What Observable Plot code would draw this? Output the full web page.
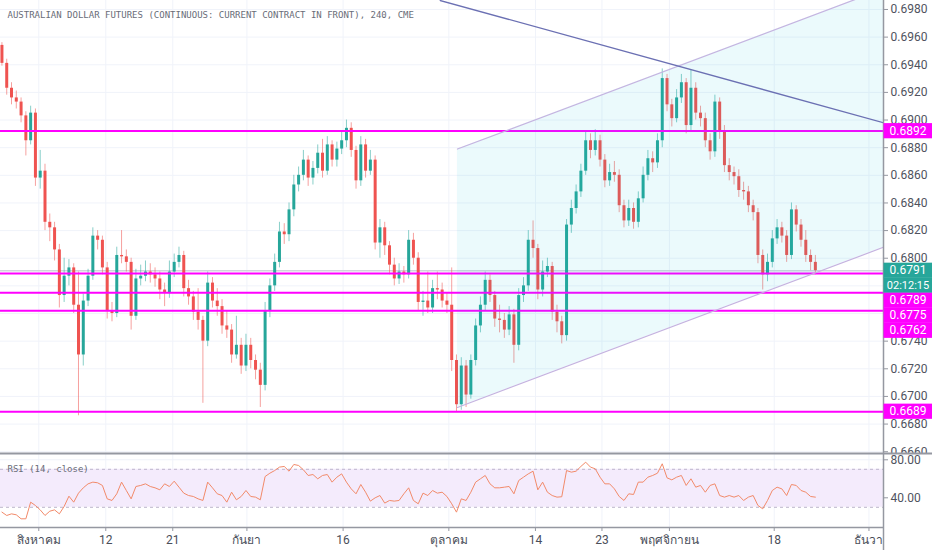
<!DOCTYPE html>
<html><head><meta charset="utf-8">
<script src="https://cdn.jsdelivr.net/npm/d3@7"></script>
<script src="https://cdn.jsdelivr.net/npm/@observablehq/plot@0.6"></script>
<style>
html,body{margin:0;padding:0;background:#fff;}
#chart svg{display:block;}
</style></head><body><div id="chart"></div>
<script>
// ---------------- data ----------------
const title = "AUSTRALIAN DOLLAR FUTURES (CONTINUOUS: CURRENT CONTRACT IN FRONT), 240, CME";
const rsiTitle = "RSI (14, close)";
const open0 = 0.6954;
const closes = [
0.6941,0.6923,0.6916,0.6913,0.6903,0.6885,0.6905,0.6858,0.6863,0.6826,
0.6822,0.6806,0.6773,0.6787,0.6793,0.6766,0.6730,0.6769,0.6787,0.6816,
0.6813,0.6793,0.6762,0.6760,0.6802,0.6801,0.6797,0.6758,0.6785,0.6787,
0.6790,0.6788,0.6785,0.6777,0.6775,0.6790,0.6797,0.6802,0.6778,0.6772,
0.6761,0.6755,0.6740,0.6782,0.6769,0.6765,0.6751,0.6748,0.6730,0.6737,
0.6722,0.6737,0.6726,0.6719,0.6708,0.6762,0.6780,0.6797,0.6819,0.6817,
0.6835,0.6853,0.6860,0.6871,0.6858,0.6865,0.6876,0.6863,0.6882,0.6871,
0.6879,0.6885,0.6894,0.6878,0.6856,0.6882,0.6863,0.6871,0.6811,0.6822,
0.6809,0.6795,0.6785,0.6790,0.6788,0.6813,0.6800,0.6768,0.6769,0.6764,
0.6778,0.6777,0.6769,0.6766,0.6726,0.6694,0.6722,0.6701,0.6726,0.6751,
0.6766,0.6784,0.6773,0.6756,0.6755,0.6748,0.6759,0.6737,0.6773,0.6780,
0.6813,0.6807,0.6777,0.6790,0.6794,0.6761,0.6754,0.6744,0.6824,0.6836,
0.6848,0.6863,0.6885,0.6878,0.6885,0.6871,0.6856,0.6862,0.6860,0.6838,
0.6827,0.6836,0.6826,0.6843,0.6860,0.6872,0.6869,0.6885,0.6930,0.6911,
0.6901,0.6916,0.6927,0.6896,0.6923,0.6905,0.6901,0.6885,0.6877,0.6913,
0.6892,0.6867,0.6862,0.6859,0.6849,0.6848,0.6838,0.6833,0.6802,0.6788,
0.6797,0.6814,0.6822,0.6816,0.6802,0.6835,0.6824,0.6813,0.6802,0.6797,
0.6791];
const highs = [
0.6956,0.6944,0.6927,0.6921,0.6916,0.6906,0.6910,0.6908,0.6878,0.6868,
0.6832,0.6826,0.6810,0.6800,0.6799,0.6796,0.6790,0.6774,0.6792,0.6822,
0.6820,0.6816,0.6797,0.6768,0.6808,0.6820,0.6806,0.6800,0.6792,0.6795,
0.6798,0.6796,0.6793,0.6790,0.6782,0.6798,0.6803,0.6808,0.6805,0.6784,
0.6776,0.6778,0.6758,0.6790,0.6786,0.6778,0.6770,0.6762,0.6752,0.6758,
0.6742,0.6745,0.6742,0.6730,0.6724,0.6768,0.6785,0.6803,0.6826,0.6825,
0.6840,0.6860,0.6866,0.6878,0.6874,0.6870,0.6882,0.6886,0.6888,0.6885,
0.6884,0.6892,0.6900,0.6898,0.6881,0.6888,0.6886,0.6878,0.6874,0.6828,
0.6826,0.6812,0.6800,0.6796,0.6794,0.6820,0.6818,0.6804,0.6776,0.6790,
0.6784,0.6790,0.6782,0.6775,0.6793,0.6730,0.6728,0.6726,0.6730,0.6756,
0.6772,0.6790,0.6788,0.6776,0.6766,0.6760,0.6765,0.6763,0.6778,0.6786,
0.6820,0.6827,0.6810,0.6798,0.6800,0.6797,0.6766,0.6758,0.6828,0.6842,
0.6853,0.6868,0.6891,0.6890,0.6893,0.6889,0.6875,0.6868,0.6870,0.6864,
0.6842,0.6842,0.6840,0.6848,0.6866,0.6878,0.6877,0.6890,0.6937,0.6933,
0.6915,0.6922,0.6933,0.6930,0.6936,0.6927,0.6910,0.6905,0.6890,0.6918,
0.6916,0.6896,0.6872,0.6866,0.6864,0.6855,0.6852,0.6842,0.6836,0.6806,
0.6803,0.6820,0.6828,0.6826,0.6820,0.6840,0.6838,0.6828,0.6820,0.6806,
0.6802];
const lows = [
0.6939,0.6918,0.6911,0.6908,0.6898,0.6874,0.6882,0.6852,0.6850,0.6820,
0.6812,0.6798,0.6764,0.6768,0.6780,0.6760,0.6686,0.6722,0.6765,0.6784,
0.6806,0.6788,0.6756,0.6754,0.6757,0.6796,0.6790,0.6748,0.6755,0.6780,
0.6783,0.6782,0.6779,0.6770,0.6765,0.6771,0.6786,0.6793,0.6772,0.6766,
0.6755,0.6748,0.6695,0.6736,0.6764,0.6758,0.6745,0.6742,0.6724,0.6727,
0.6716,0.6718,0.6720,0.6712,0.6692,0.6704,0.6757,0.6776,0.6793,0.6810,
0.6812,0.6830,0.6848,0.6856,0.6852,0.6853,0.6861,0.6858,0.6860,0.6866,
0.6866,0.6875,0.6880,0.6873,0.6850,0.6852,0.6858,0.6860,0.6806,0.6800,
0.6802,0.6788,0.6780,0.6781,0.6782,0.6785,0.6795,0.6762,0.6758,0.6760,
0.6760,0.6770,0.6764,0.6760,0.6718,0.6689,0.6690,0.6692,0.6698,0.6722,
0.6746,0.6762,0.6768,0.6750,0.6746,0.6742,0.6744,0.6724,0.6733,0.6768,
0.6776,0.6800,0.6770,0.6772,0.6786,0.6755,0.6746,0.6738,0.6740,0.6818,
0.6832,0.6844,0.6860,0.6872,0.6874,0.6866,0.6851,0.6852,0.6855,0.6833,
0.6822,0.6823,0.6821,0.6822,0.6840,0.6856,0.6862,0.6865,0.6880,0.6906,
0.6895,0.6898,0.6912,0.6890,0.6892,0.6900,0.6895,0.6880,0.6871,0.6873,
0.6886,0.6862,0.6856,0.6853,0.6844,0.6842,0.6833,0.6827,0.6796,0.6777,
0.6783,0.6793,0.6810,0.6811,0.6797,0.6799,0.6819,0.6808,0.6797,0.6791,
0.6788];
const rsiValues = [
24.9,21.4,23.1,22.1,17.9,17.9,35.4,31.9,27.3,21.4,
25.9,27.3,23.1,30.9,41.7,35.4,44.9,50.5,54.7,56.5,
55.8,53.0,38.9,37.2,44.2,56.5,47.7,38.9,51.9,53.0,
54.7,51.9,50.5,48.4,54.7,51.9,57.5,51.2,44.9,42.4,
41.4,38.9,37.2,56.5,50.5,44.2,42.4,35.4,45.9,37.9,
41.4,47.7,41.4,40.7,37.9,62.4,65.9,68.7,72.3,73.0,
68.0,75.1,74.0,69.5,63.5,64.5,60.0,63.5,64.5,56.5,
61.7,65.2,56.5,49.4,44.2,54.0,45.9,36.5,40.0,42.4,
34.4,37.2,36.5,37.2,44.2,50.5,37.2,33.7,44.9,42.4,
47.7,44.9,45.9,41.4,33.7,24.9,38.9,37.2,45.9,56.5,
60.0,63.5,54.7,50.5,50.5,51.2,51.9,44.2,58.2,61.7,
65.2,68.0,48.4,56.5,45.9,42.4,40.7,41.1,68.7,67.0,
68.0,73.0,77.5,72.3,70.5,61.7,54.7,54.7,49.4,41.4,
37.2,44.2,43.5,56.5,56.5,61.7,63.5,65.9,75.8,61.0,
58.9,61.7,63.5,53.0,60.0,51.2,53.0,45.9,53.0,54.7,
42.4,40.7,42.4,40.7,42.4,37.2,40.7,42.4,31.9,28.4,
37.2,47.7,51.2,49.4,42.4,54.0,53.0,47.7,45.9,41.4,
40.7];
// x ticks (bar index positions) and labels
const tickPos = [7.7, 21.7, 35.7, 51.2, 71.3, 93.4, 111.5, 125.4, 139.5, 161.4, 181.2];
const tickLabels = ["สิงหาคม","12","21","กันยา","16","ตุลาคม","14","23","พฤศจิกายน","18","ธันวา"];
const priceTicks = [0.6660,0.6680,0.6700,0.6720,0.6740,0.6760,0.6780,0.6800,0.6820,0.6840,0.6860,0.6880,0.6900,0.6920,0.6940,0.6960,0.6980];
const hiddenTicks = [0.6760, 0.6780]; // covered by the price labels in the reference
const levels = [0.6892, 0.6789, 0.6775, 0.6762, 0.6689];
const lastPrice = 0.6791;
const countdown = "02:12:15";
const rsiTicks = [40, 80];
const rsiBand = [30, 70];
// drawings in (bar index, price)
const channelX = [95.2, 184.3];
const channelLow = [0.6692, 0.6808];
const channelHigh = [0.6879, 0.6995];
const trendX = [91.6, 184.3];
const trendP = [0.69865, 0.6898];
const xDomain = [-0.3, 184.24];
const priceDomain = [0.66587, 0.69865];
const rsiDomain = [8.74, 86.63];

// ---------------- build ----------------
const UP = "#26a69a", DOWN = "#ef5350";
const bars = closes.map((c, i) => ({i, o: i ? closes[i-1] : open0, h: highs[i], l: lows[i], c, rsi: rsiValues[i]}));
const col = d => d.c >= d.o ? UP : DOWN;
const chan = channelX.map((x, k) => ({x, lo: channelLow[k], hi: channelHigh[k]}));
const trend = trendX.map((x, k) => ({x, p: trendP[k]}));
const labelTicks = priceTicks.filter(t => !hiddenTicks.includes(t));
const W = 932, MR = 49, FW = W - MR;
const font = "Roboto, 'Noto Sans', 'DejaVu Sans', sans-serif";
const mono = "'DejaVu Sans Mono', 'Liberation Mono', monospace";
const axisCol = "#9598a1", textCol = "#50535e", gridCol = "#f0f3fa";

const main = Plot.plot({
  width: W, height: 453, marginLeft: 0, marginRight: MR, marginTop: 0, marginBottom: 0,
  x: {domain: xDomain, axis: null},
  y: {domain: priceDomain, axis: null},
  style: {fontFamily: font, fontSize: "12px", color: textCol, background: "#fff"},
  marks: [
    Plot.ruleY(priceTicks, {stroke: gridCol}),
    Plot.ruleX(tickPos, {stroke: gridCol}),
    Plot.ruleY([lastPrice], {stroke: "#d1d4dc", strokeWidth: 1.5}),
    Plot.ruleX(bars, {x: "i", y1: "l", y2: "h", stroke: col, strokeOpacity: 0.55, strokeWidth: 1}),
    Plot.ruleX(bars, {x: "i", y1: "o", y2: "c", stroke: col, strokeWidth: 3}),
    Plot.ruleY(levels, {stroke: "#ff00ff", strokeWidth: 2}),
    Plot.areaY(chan, {x: "x", y1: "lo", y2: "hi", fill: "#00bcd4", fillOpacity: 0.08, clip: true}),
    Plot.line(chan, {x: "x", y: "lo", stroke: "#c5b3e0", strokeWidth: 1.2, clip: true}),
    Plot.line(chan, {x: "x", y: "hi", stroke: "#c5b3e0", strokeWidth: 1.2, clip: true}),
    Plot.line(trend, {x: "x", y: "p", stroke: "#6b70b3", strokeWidth: 1.3, clip: true}),
    Plot.ruleX([xDomain[1]], {stroke: axisCol, strokeWidth: 1.5}),
    Plot.ruleY(priceTicks, {stroke: axisCol, insetLeft: FW, insetRight: -5}),
    Plot.text(labelTicks, {y: d => d, frameAnchor: "right", dx: 7, textAnchor: "start", lineAnchor: "middle",
      text: d => d.toFixed(4), fill: textCol, fontSize: 12, fontFamily: font}),
    Plot.text([title], {frameAnchor: "top-left", dx: 7, dy: 15, textAnchor: "start", lineAnchor: "middle",
      fontFamily: mono, fontSize: 9, fill: "#6a6d78"}),
    Plot.ruleY([priceDomain[0]], {stroke: axisCol, strokeWidth: 2, insetRight: -MR})
  ]
});

// price labels on the right axis, positioned through the plot's y scale
{
  const ys = main.scale("y");
  const svg = d3.select(main);
  const g = svg.append("g").attr("font-family", font).attr("text-anchor", "middle");
  const y0 = ys.apply(lastPrice);
  const items = [
    {y: ys.apply(levels[0]), t: levels[0].toFixed(4), f: "#ff00ff", s: 12},
    {y: y0, t: lastPrice.toFixed(4), f: UP, s: 12},
    {y: y0 + 15, t: countdown, f: UP, s: 11},
    {y: y0 + 30, t: levels[1].toFixed(4), f: "#ff00ff", s: 12},
    {y: y0 + 45, t: levels[2].toFixed(4), f: "#ff00ff", s: 12},
    {y: y0 + 60, t: levels[3].toFixed(4), f: "#ff00ff", s: 12},
    {y: ys.apply(levels[4]), t: levels[4].toFixed(4), f: "#ff00ff", s: 12}
  ];
  g.selectAll("rect").data(items).join("rect")
    .attr("x", FW + 0.5).attr("width", MR).attr("y", d => d.y - 7.5).attr("height", 15.2).attr("fill", d => d.f);
  g.selectAll("text").data(items).join("text")
    .attr("x", FW + MR / 2 + 0.5).attr("y", d => d.y).attr("dy", "0.36em")
    .attr("font-size", d => d.s).attr("fill", "#fff").text(d => d.t);
}

const rsiPlot = Plot.plot({
  width: W, height: 97, marginLeft: 0, marginRight: MR, marginTop: 0, marginBottom: 23,
  x: {domain: xDomain, axis: null},
  y: {domain: rsiDomain, axis: null},
  style: {fontFamily: font, fontSize: "12px", color: textCol, background: "#fff"},
  marks: [
    Plot.ruleX(tickPos, {stroke: gridCol}),
    Plot.ruleY(rsiTicks, {stroke: gridCol}),
    Plot.rect([rsiBand], {y1: d => d[0], y2: d => d[1], fill: "#f4ebfc"}),
    Plot.ruleY(rsiBand, {stroke: "#bdb6cc", strokeDasharray: "3,3"}),
    Plot.line(bars, {x: "i", y: "rsi", stroke: "#f28a6a", strokeWidth: 1}),
    Plot.ruleY([rsiDomain[0]], {stroke: axisCol, strokeWidth: 1.5}),
    Plot.ruleY([rsiDomain[1]], {stroke: axisCol, strokeWidth: 2, insetRight: -MR}),
    Plot.ruleX([xDomain[1]], {stroke: axisCol, strokeWidth: 1.5, insetBottom: -23}),
    Plot.ruleY(rsiTicks, {stroke: axisCol, insetLeft: FW, insetRight: -5}),
    Plot.text(rsiTicks, {y: d => d, frameAnchor: "right", dx: 7, textAnchor: "start", lineAnchor: "middle",
      text: d => d.toFixed(2), fill: textCol, fontSize: 12, fontFamily: font}),
    Plot.ruleX(tickPos, {stroke: axisCol, insetTop: 74, insetBottom: -4}),
    Plot.text(tickPos, {x: d => d, frameAnchor: "bottom", dy: 13, lineAnchor: "middle",
      text: (d, i) => tickLabels[i], fill: "#4a4e59", fontSize: 12, fontFamily: font}),
    Plot.text([rsiTitle], {frameAnchor: "top-left", dx: 7, dy: 16, textAnchor: "start", lineAnchor: "middle",
      fontFamily: mono, fontSize: 9, fill: "#6a6d78"})
  ]
});

const root = document.getElementById("chart");
root.appendChild(main);
root.appendChild(rsiPlot);
</script>
</body></html>
